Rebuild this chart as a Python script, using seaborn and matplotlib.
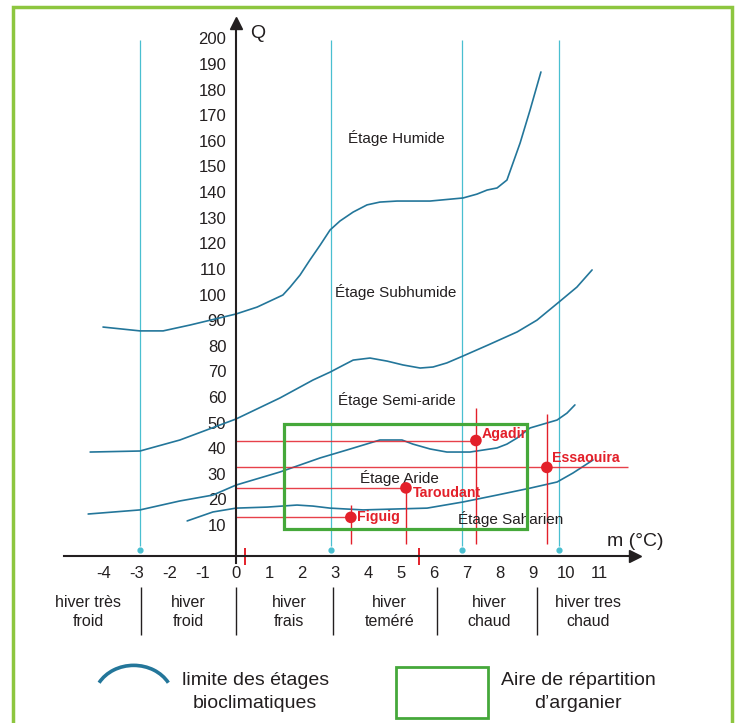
import numpy as np
import pandas as pd
import seaborn as sns
import matplotlib.pyplot as plt
from matplotlib.patches import Rectangle, Arc

# --- data read off the climagramme ---
# limits between bioclimatic stages (m in degC, Q)
humide_m = [-4.03, -2.91, -2.21, -1.39, 0.0, 0.64, 1.42, 1.64, 1.94, 2.24, 2.55, 2.85,
            3.15, 3.55, 3.97, 4.36, 4.88, 5.88, 6.88, 7.30, 7.61, 7.91, 8.21, 8.61,
            8.91, 9.24]
humide_q = [87.3, 85.8, 85.8, 88.1, 92.4, 95.1, 99.8, 102.9, 107.6, 113.5, 119.3, 125.2,
            128.7, 132.2, 135.0, 136.1, 136.5, 136.5, 137.7, 139.2, 140.8, 141.6, 144.7,
            159.2, 172.0, 186.9]

subhumide_m = [-4.42, -2.91, -1.70, 0.0, 1.33, 2.33, 2.85, 3.25, 3.55, 4.06, 4.58,
               5.06, 5.58, 5.97, 6.39, 6.88, 7.64, 8.52, 9.12, 9.79, 10.33, 10.79]
subhumide_q = [38.5, 38.9, 43.2, 51.4, 59.6, 66.6, 69.7, 72.4, 74.4, 75.2, 74.0,
               72.5, 71.3, 71.7, 73.3, 76.0, 80.3, 85.4, 90.0, 97.1, 102.9, 109.6]

semiaride_m = [-4.48, -2.91, -1.70, -0.70, 0.0, 1.33, 2.55, 3.36, 4.36, 5.03, 5.36, 5.88,
               6.39, 7.09, 7.91, 8.21, 8.52, 8.91, 9.73, 10.03, 10.27]
semiaride_q = [14.3, 15.9, 19.4, 21.7, 25.6, 30.7, 36.2, 39.3, 43.2, 43.2, 41.6, 39.7,
               38.5, 38.5, 40.1, 41.6, 44.0, 47.9, 51.0, 53.7, 56.9]

aride_m = [-1.48, -0.70, 0.0, 0.94, 1.85, 2.33, 2.85, 3.85, 5.79, 6.88, 7.91, 8.91,
           9.73, 10.21, 10.82]
aride_q = [11.6, 15.1, 16.6, 17.0, 17.8, 17.4, 16.6, 15.9, 16.6, 19.0, 21.7, 24.4,
           26.8, 30.3, 35.4]

# stations
station_names = ["Agadir", "Essaouira", "Taroudant", "Figuig"]
station_m = [7.27, 9.42, 5.15, 3.48]
station_q = [43.0, 32.5, 24.5, 13.0]
station_hline_end = [7.27, 11.88, 5.15, 3.48]
station_vline_top = [55.7, 53.3, 24.8, 17.8]

# argan tree area
argan_m = (1.45, 8.82)
argan_q = (8.4, 49.4)

# winter type markers
cyan_m = [-2.91, 2.88, 6.85, 9.79]
red_tick_m = [0.27, 5.55]

stage_labels = ["Étage Humide", "Étage Subhumide", "Étage Semi-aride", "Étage Aride", "Étage Saharien"]
stage_m = [4.85, 4.85, 4.88, 4.94, 8.33]
stage_q = [161, 101, 58.8, 28.4, 12.3]

winter_labels = ["hiver très\nfroid", "hiver\nfroid", "hiver\nfrais",
                 "hiver\nteméré", "hiver\nchaud", "hiver tres\nchaud"]
winter_m = [-4.48, -1.45, 1.61, 4.64, 7.67, 10.67]
winter_sep_m = [-2.88, 0.0, 2.94, 6.09, 9.12]

x_ticks = list(range(-4, 12))
y_ticks = list(range(10, 210, 10))

TEAL = "#23769a"
CYAN = "#49bfd0"
GREEN = "#45a83a"
RED = "#e3202a"
INK = "#231f20"

sns.set_theme(style="white")
plt.rcParams["font.family"] = ["Liberation Sans", "DejaVu Sans"]
plt.rcParams["axes.unicode_minus"] = False

fig = plt.figure(figsize=(7.38, 7.23), dpi=100)
ax = fig.add_axes([0, 0, 1, 1])
ax.set_xlim(-7.152, 15.212)
ax.set_ylim(-67.3, 215.0)

# --- axes through the origin ---
for side in ["top", "right"]:
    ax.spines[side].set_visible(False)
ax.spines["left"].set_position(("data", 0))
ax.spines["bottom"].set_position(("data", -2.1))
ax.spines["left"].set_bounds(-5, 205)
ax.spines["bottom"].set_bounds(-5.21, 12.0)
for side in ["left", "bottom"]:
    ax.spines[side].set_color(INK)
    ax.spines[side].set_linewidth(1.5)
ax.plot([0], [206], marker="^", ms=9, color=INK, clip_on=False)
ax.plot([12.1], [-2.1], marker=">", ms=9, color=INK, clip_on=False)

ax.set_yticks(y_ticks)
ax.set_yticklabels([str(v) for v in y_ticks])
ax.tick_params(axis="y", length=6, width=1.4, pad=1, labelsize=12, colors=INK)
ax.yaxis.get_major_ticks()[-1].tick1line.set_visible(False)
ax.set_xticks(x_ticks)
ax.set_xticklabels([str(v) for v in x_ticks])
ax.tick_params(axis="x", length=0, pad=7, labelsize=12, colors=INK)
ax.text(0.42, 202, "Q", fontsize=14, color=INK, va="center", ha="left")
ax.text(11.24, 3.4, "m (°C)", fontsize=14, color=INK, va="center", ha="left")

# --- cyan guide lines ---
ax.vlines(cyan_m, 2, 199.5, color=CYAN, lw=0.9)
ax.scatter(cyan_m, [0.3] * len(cyan_m), s=12, color=CYAN, zorder=3)

# --- stage limits ---
curves = pd.concat([
    pd.DataFrame({"m": humide_m, "Q": humide_q, "limite": "humide"}),
    pd.DataFrame({"m": subhumide_m, "Q": subhumide_q, "limite": "subhumide"}),
    pd.DataFrame({"m": semiaride_m, "Q": semiaride_q, "limite": "semiaride"}),
    pd.DataFrame({"m": aride_m, "Q": aride_q, "limite": "aride"}),
])
sns.lineplot(data=curves, x="m", y="Q", units="limite", estimator=None, sort=False,
             color=TEAL, lw=1.2, solid_joinstyle="round", ax=ax)

for label, m, q in zip(stage_labels, stage_m, stage_q):
    ax.text(m, q, label, fontsize=11, color=INK, ha="center", va="center")

# --- argan area ---
ax.add_patch(Rectangle((argan_m[0], argan_q[0]), argan_m[1] - argan_m[0],
                       argan_q[1] - argan_q[0], fill=False, ec=GREEN, lw=2.3, zorder=4))

# --- stations ---
ax.hlines(station_q, 0, station_hline_end, color=RED, lw=1.0, alpha=0.85)
ax.vlines(station_m, 2.6, station_vline_top, color=RED, lw=1.0)
ax.vlines(red_tick_m, -5.5, 1, color=RED, lw=1.4)
stations = pd.DataFrame({"name": station_names, "m": station_m, "Q": station_q})
sns.scatterplot(data=stations, x="m", y="Q", color=RED, s=70, edgecolor="none", zorder=5, ax=ax)
label_offsets = {"Agadir": (4, 5), "Essaouira": (4, 7), "Taroudant": (5, -4), "Figuig": (4.5, 0)}
for name, m, q in zip(station_names, station_m, station_q):
    ax.annotate(name, (m, q), xytext=label_offsets[name], textcoords="offset points",
                fontsize=10.2, fontweight="bold", color=RED, ha="left", va="center",
                zorder=6)

ax.set_xlabel("")
ax.set_ylabel("")

# --- winter types under the axis ---
ax.vlines(winter_sep_m, -33, -14.2, color=INK, lw=1.0)
for label, m in zip(winter_labels, winter_m):
    ax.text(m, -24, label, fontsize=11.5, color=INK, ha="center", va="center",
            linespacing=1.35)

# --- legend ---
# angles are given in data space, hence the stretched values
ax.add_patch(Arc((-3.1, -58.2), 2.414, 26.8, theta1=81, theta2=99, color=TEAL, lw=2.6))
ax.text(0.58, -55.2, "limite des étages\nbioclimatiques", fontsize=14, color=INK,
        ha="center", va="center", linespacing=1.4)
ax.add_patch(Rectangle((4.85, -65.4), 2.79, 19.9, fill=False, ec=GREEN, lw=2.0))
ax.text(10.36, -55.2, "Aire de répartition\nd’arganier", fontsize=14, color=INK,
        ha="center", va="center", linespacing=1.4)

# outer frame
fig.add_artist(Rectangle((13 / 738, -0.05), 719 / 738, 1 - 7 / 723 + 0.05,
                         transform=fig.transFigure, fill=False, ec="#8dc63f", lw=2.5))

fig.savefig("out.png", dpi=100)
